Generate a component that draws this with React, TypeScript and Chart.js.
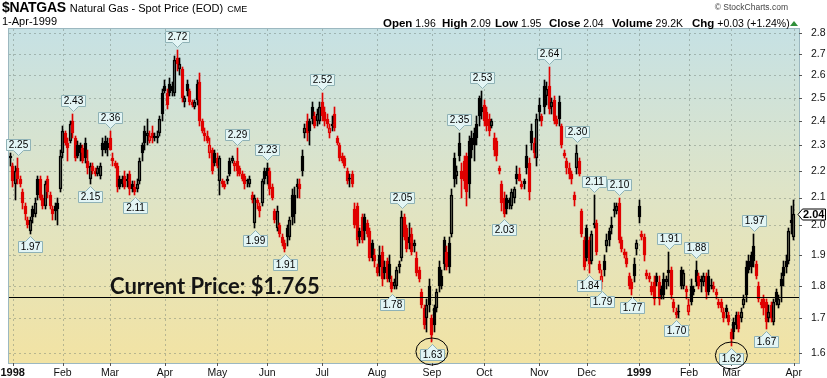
import React, { useEffect, useRef } from "react";
import { Chart, registerables } from "chart.js";

Chart.register(...registerables);

type Row = [number, number, number, number]; // open, high, low, close

// ---- daily OHLC ----
const dec97: Row[] = [[2.25, 2.27, 2.22, 2.26]];
const jan98: Row[] = [
  [2.22, 2.23, 2.14, 2.16], [2.15, 2.22, 2.09, 2.2], [2.21, 2.25, 2.15, 2.17], [2.17, 2.18, 2.14, 2.15],
  [2.12, 2.13, 2.06, 2.08], [2.07, 2.08, 2.02, 2.04], [2.02, 2.03, 1.99, 2.0], [1.98, 2.03, 1.97, 2.02],
  [2.06, 2.07, 2.01, 2.03], [2.04, 2.1, 2.03, 2.08], [2.17, 2.18, 2.09, 2.11], [2.17, 2.18, 2.09, 2.1],
  [2.1, 2.11, 2.06, 2.07], [2.07, 2.16, 2.06, 2.15], [2.17, 2.18, 2.1, 2.12], [2.11, 2.12, 2.06, 2.07],
  [2.06, 2.07, 2.02, 2.04], [2.07, 2.08, 2.02, 2.05], [2.08, 2.1, 2.0, 2.06], [2.13, 2.28, 2.12, 2.26],
];
const feb98: Row[] = [
  [2.27, 2.38, 2.25, 2.36], [2.35, 2.36, 2.3, 2.31], [2.31, 2.33, 2.24, 2.29], [2.32, 2.4, 2.31, 2.39],
  [2.4, 2.43, 2.33, 2.35], [2.33, 2.34, 2.24, 2.25], [2.3, 2.32, 2.25, 2.26], [2.3, 2.31, 2.24, 2.27],
  [2.29, 2.3, 2.23, 2.24], [2.31, 2.33, 2.23, 2.25], [2.24, 2.28, 2.19, 2.21], [2.17, 2.23, 2.15, 2.22],
  [2.22, 2.23, 2.19, 2.2], [2.2, 2.21, 2.18, 2.19], [2.19, 2.22, 2.18, 2.21], [2.18, 2.23, 2.17, 2.22],
  [2.31, 2.33, 2.26, 2.28], [2.32, 2.34, 2.27, 2.28], [2.31, 2.33, 2.26, 2.29],
];
const mar98: Row[] = [
  [2.33, 2.36, 2.28, 2.28], [2.25, 2.27, 2.22, 2.24], [2.23, 2.24, 2.21, 2.22], [2.22, 2.23, 2.12, 2.14],
  [2.17, 2.18, 2.13, 2.14], [2.17, 2.18, 2.14, 2.15], [2.18, 2.2, 2.13, 2.14], [2.17, 2.19, 2.14, 2.16],
  [2.19, 2.2, 2.11, 2.13], [2.15, 2.16, 2.12, 2.13], [2.14, 2.16, 2.11, 2.12], [2.13, 2.17, 2.12, 2.15],
  [2.16, 2.25, 2.15, 2.24], [2.3, 2.31, 2.24, 2.27], [2.36, 2.38, 2.28, 2.31], [2.34, 2.41, 2.3, 2.35],
  [2.32, 2.36, 2.31, 2.34], [2.35, 2.38, 2.31, 2.33], [2.34, 2.35, 2.32, 2.33], [2.33, 2.36, 2.31, 2.34],
  [2.35, 2.42, 2.34, 2.41], [2.52, 2.54, 2.4, 2.43],
];
const apr98: Row[] = [
  [2.55, 2.58, 2.52, 2.53], [2.52, 2.54, 2.45, 2.47], [2.56, 2.59, 2.51, 2.52], [2.55, 2.57, 2.51, 2.53],
  [2.52, 2.69, 2.51, 2.67], [2.68, 2.72, 2.62, 2.65], [2.63, 2.68, 2.6, 2.65], [2.63, 2.64, 2.48, 2.5],
  [2.48, 2.51, 2.46, 2.5], [2.56, 2.58, 2.51, 2.53], [2.53, 2.54, 2.47, 2.48], [2.48, 2.49, 2.46, 2.47],
  [2.46, 2.49, 2.45, 2.48], [2.56, 2.58, 2.47, 2.49], [2.57, 2.61, 2.38, 2.4], [2.4, 2.41, 2.35, 2.36],
  [2.35, 2.37, 2.32, 2.34], [2.34, 2.36, 2.31, 2.32], [2.27, 2.33, 2.25, 2.3], [2.28, 2.29, 2.19, 2.2],
  [2.27, 2.28, 2.22, 2.23],
];
const may98: Row[] = [
  [2.25, 2.27, 2.21, 2.22], [2.16, 2.26, 2.11, 2.25], [2.16, 2.17, 2.14, 2.15], [2.15, 2.16, 2.13, 2.14],
  [2.17, 2.18, 2.15, 2.16], [2.24, 2.25, 2.18, 2.19], [2.24, 2.26, 2.23, 2.25], [2.22, 2.24, 2.2, 2.23],
  [2.24, 2.29, 2.18, 2.2], [2.21, 2.22, 2.18, 2.19], [2.19, 2.2, 2.16, 2.17], [2.18, 2.19, 2.13, 2.15],
  [2.16, 2.17, 2.14, 2.16], [2.15, 2.18, 2.14, 2.17], [2.11, 2.12, 2.08, 2.09], [2.01, 2.11, 1.99, 2.1],
  [2.09, 2.1, 2.06, 2.08], [2.07, 2.08, 2.03, 2.05], [2.08, 2.17, 2.07, 2.16], [2.2, 2.21, 2.15, 2.17],
];
const jun98: Row[] = [
  [2.21, 2.23, 2.15, 2.18], [2.2, 2.21, 2.11, 2.13], [2.14, 2.15, 2.09, 2.1], [2.05, 2.06, 2.01, 2.02],
  [1.99, 2.07, 1.98, 2.05], [2.0, 2.01, 1.96, 1.97], [1.96, 1.97, 1.93, 1.94], [1.94, 1.95, 1.91, 1.92],
  [1.99, 2.0, 1.93, 1.96], [1.96, 2.03, 1.95, 2.02], [2.11, 2.13, 2.0, 2.03], [2.11, 2.14, 2.01, 2.04],
  [2.15, 2.17, 2.1, 2.14], [2.15, 2.17, 2.1, 2.13], [2.26, 2.28, 2.18, 2.2], [2.35, 2.39, 2.33, 2.37],
  [2.4, 2.43, 2.32, 2.35], [2.4, 2.41, 2.3, 2.36], [2.46, 2.48, 2.39, 2.41], [2.42, 2.44, 2.37, 2.38],
  [2.4, 2.45, 2.38, 2.43], [2.4, 2.48, 2.39, 2.46],
];
const jul98: Row[] = [
  [2.48, 2.52, 2.4, 2.42], [2.44, 2.46, 2.38, 2.4], [2.41, 2.43, 2.37, 2.39], [2.35, 2.39, 2.33, 2.37],
  [2.39, 2.42, 2.36, 2.38], [2.43, 2.46, 2.36, 2.37], [2.33, 2.34, 2.3, 2.31], [2.3, 2.31, 2.24, 2.25],
  [2.26, 2.27, 2.23, 2.24], [2.25, 2.26, 2.21, 2.22], [2.2, 2.21, 2.15, 2.16], [2.17, 2.19, 2.14, 2.17],
  [2.19, 2.2, 2.14, 2.15], [2.06, 2.08, 1.99, 2.0], [2.07, 2.08, 1.93, 1.95], [1.98, 1.99, 1.94, 1.96],
  [2.03, 2.04, 1.94, 1.95], [2.03, 2.04, 1.95, 1.98], [2.01, 2.02, 1.96, 1.97], [1.98, 1.99, 1.88, 1.89],
  [1.94, 1.95, 1.88, 1.89], [1.9, 1.92, 1.86, 1.88],
];
const aug98: Row[] = [
  [1.86, 1.87, 1.83, 1.84], [1.9, 1.93, 1.83, 1.86], [1.91, 1.93, 1.8, 1.82], [1.86, 1.88, 1.82, 1.84],
  [1.88, 1.89, 1.81, 1.82], [1.87, 1.9, 1.81, 1.82], [1.81, 1.83, 1.78, 1.79], [1.8, 1.82, 1.79, 1.81],
  [1.8, 1.86, 1.79, 1.85], [1.86, 1.88, 1.84, 1.87], [1.89, 2.05, 1.88, 2.03], [2.03, 2.04, 1.95, 1.96],
  [1.99, 2.0, 1.91, 1.92], [1.96, 2.01, 1.92, 1.94], [1.97, 1.99, 1.9, 1.91], [1.93, 1.95, 1.91, 1.94],
  [1.89, 1.91, 1.83, 1.84], [1.85, 1.86, 1.81, 1.82], [1.78, 1.79, 1.73, 1.74], [1.73, 1.74, 1.67, 1.68],
  [1.7, 1.76, 1.66, 1.74],
];
const sep98: Row[] = [
  [1.8, 1.82, 1.72, 1.74], [1.7, 1.71, 1.63, 1.65], [1.73, 1.74, 1.66, 1.68], [1.73, 1.79, 1.72, 1.78],
  [1.86, 1.88, 1.78, 1.8], [1.83, 1.85, 1.79, 1.8], [1.95, 1.96, 1.85, 1.87], [1.91, 1.93, 1.85, 1.86],
  [1.94, 1.96, 1.84, 1.86], [1.97, 2.13, 1.96, 2.11], [2.25, 2.27, 2.14, 2.17], [2.18, 2.22, 2.15, 2.2],
  [2.31, 2.35, 2.24, 2.26], [2.2, 2.23, 2.1, 2.17], [2.24, 2.26, 2.13, 2.16], [2.26, 2.27, 2.07, 2.12],
  [2.32, 2.34, 2.1, 2.15], [2.33, 2.36, 2.25, 2.28], [2.35, 2.37, 2.24, 2.3], [2.39, 2.42, 2.3, 2.33],
  [2.5, 2.51, 2.38, 2.42],
];
const oct98: Row[] = [
  [2.46, 2.53, 2.41, 2.44], [2.47, 2.49, 2.38, 2.4], [2.44, 2.46, 2.36, 2.38], [2.41, 2.43, 2.34, 2.36],
  [2.38, 2.41, 2.37, 2.4], [2.33, 2.35, 2.26, 2.28], [2.32, 2.33, 2.24, 2.26], [2.21, 2.22, 2.19, 2.2],
  [2.15, 2.16, 2.05, 2.08], [2.1, 2.12, 2.03, 2.04], [2.1, 2.11, 2.04, 2.06], [2.09, 2.1, 2.06, 2.08],
  [2.07, 2.13, 2.06, 2.12], [2.1, 2.14, 2.08, 2.13], [2.19, 2.22, 2.15, 2.17], [2.19, 2.21, 2.16, 2.16],
  [2.15, 2.16, 2.13, 2.14], [2.16, 2.17, 2.13, 2.15], [2.26, 2.3, 2.19, 2.21], [2.23, 2.25, 2.09, 2.12],
  [2.36, 2.39, 2.28, 2.31], [2.31, 2.33, 2.25, 2.27],
];
const nov98: Row[] = [
  [2.25, 2.43, 2.22, 2.41], [2.47, 2.5, 2.4, 2.44], [2.42, 2.43, 2.38, 2.4], [2.55, 2.58, 2.43, 2.46],
  [2.51, 2.57, 2.47, 2.54], [2.55, 2.64, 2.43, 2.45], [2.46, 2.5, 2.43, 2.48], [2.49, 2.51, 2.39, 2.4],
  [2.41, 2.42, 2.38, 2.39], [2.48, 2.51, 2.38, 2.41], [2.38, 2.39, 2.29, 2.3], [2.27, 2.28, 2.25, 2.26],
  [2.24, 2.25, 2.19, 2.21], [2.21, 2.23, 2.17, 2.19], [2.19, 2.2, 2.15, 2.17], [2.11, 2.12, 2.07, 2.09],
  [2.21, 2.3, 2.19, 2.27], [2.24, 2.25, 2.18, 2.19], [2.05, 2.06, 1.96, 1.97], [1.95, 1.96, 1.85, 1.86],
];
const dec98: Row[] = [
  [1.99, 2.0, 1.88, 1.89], [1.95, 1.96, 1.84, 1.87], [1.88, 1.98, 1.87, 1.97], [2.01, 2.11, 1.99, 2.0],
  [2.01, 2.02, 1.9, 1.91], [1.87, 1.88, 1.84, 1.85], [1.81, 1.85, 1.79, 1.83], [1.88, 1.9, 1.83, 1.85],
  [1.93, 1.97, 1.91, 1.95], [1.98, 1.99, 1.93, 1.95], [2.0, 2.03, 1.97, 1.99], [2.06, 2.08, 2.03, 2.05],
  [2.05, 2.08, 2.04, 2.07], [2.08, 2.1, 1.94, 1.95], [1.95, 1.96, 1.91, 1.92], [1.91, 1.92, 1.89, 1.9],
  [1.89, 1.91, 1.86, 1.87], [1.83, 1.84, 1.79, 1.8], [1.81, 1.82, 1.77, 1.79], [1.87, 1.89, 1.81, 1.83],
  [1.92, 1.95, 1.9, 1.94], [2.07, 2.09, 2.01, 2.03],
];
const jan99: Row[] = [
  [1.97, 1.98, 1.95, 1.96], [1.96, 1.97, 1.88, 1.9], [1.84, 1.85, 1.82, 1.83], [1.83, 1.84, 1.81, 1.82],
  [1.8, 1.81, 1.77, 1.78], [1.81, 1.83, 1.74, 1.76], [1.83, 1.84, 1.8, 1.81], [1.81, 1.83, 1.74, 1.76],
  [1.79, 1.8, 1.76, 1.77], [1.82, 1.84, 1.76, 1.77], [1.81, 1.83, 1.79, 1.82], [1.85, 1.91, 1.8, 1.84],
  [1.85, 1.86, 1.76, 1.77], [1.75, 1.76, 1.72, 1.73], [1.72, 1.73, 1.7, 1.71], [1.72, 1.74, 1.7, 1.72],
  [1.85, 1.86, 1.79, 1.8], [1.8, 1.85, 1.79, 1.84], [1.79, 1.8, 1.76, 1.78],
];
const feb99: Row[] = [
  [1.72, 1.76, 1.71, 1.74], [1.8, 1.82, 1.74, 1.75], [1.79, 1.8, 1.77, 1.78], [1.85, 1.88, 1.8, 1.81],
  [1.83, 1.84, 1.79, 1.8], [1.82, 1.83, 1.78, 1.81], [1.81, 1.84, 1.8, 1.83], [1.83, 1.84, 1.76, 1.78],
  [1.83, 1.85, 1.77, 1.78], [1.8, 1.82, 1.79, 1.8], [1.8, 1.81, 1.78, 1.79], [1.78, 1.79, 1.76, 1.77],
  [1.75, 1.76, 1.73, 1.74], [1.75, 1.76, 1.72, 1.73], [1.72, 1.73, 1.69, 1.7], [1.73, 1.74, 1.7, 1.72],
  [1.71, 1.72, 1.68, 1.69], [1.66, 1.67, 1.62, 1.64], [1.69, 1.7, 1.64, 1.66],
];
const mar99: Row[] = [
  [1.71, 1.72, 1.67, 1.68], [1.71, 1.72, 1.66, 1.67], [1.7, 1.73, 1.69, 1.72], [1.74, 1.77, 1.73, 1.76],
  [1.86, 1.88, 1.75, 1.77], [1.88, 1.9, 1.84, 1.85], [1.9, 1.91, 1.84, 1.86], [1.93, 1.97, 1.86, 1.88],
  [1.87, 1.88, 1.82, 1.83], [1.8, 1.81, 1.75, 1.76], [1.75, 1.76, 1.73, 1.74], [1.76, 1.77, 1.71, 1.73],
  [1.75, 1.76, 1.67, 1.69], [1.7, 1.74, 1.69, 1.72], [1.74, 1.75, 1.69, 1.7], [1.69, 1.76, 1.68, 1.75],
  [1.78, 1.79, 1.74, 1.75], [1.74, 1.77, 1.73, 1.76], [1.82, 1.84, 1.75, 1.8], [1.86, 1.88, 1.8, 1.83],
  [1.88, 1.9, 1.84, 1.86], [1.88, 1.99, 1.87, 1.98], [2.02, 2.07, 1.97, 2.01],
];
const apr99: Row[] = [[1.96, 2.09, 1.95, 2.04]];

// ---- axes ----
const monthSlots = [0, 20, 39, 61, 82, 102, 124, 146, 168, 189, 211, 230, 251, 271, 288, 313];
const monthLabels = ["1998", "Feb", "Mar", "Apr", "May", "Jun", "Jul", "Aug", "Sep", "Oct", "Nov", "Dec", "1999", "Feb", "Mar", "Apr"];
const yTickValues = [1.6, 1.7, 1.8, 1.9, 2.0, 2.1, 2.2, 2.3, 2.4, 2.5, 2.6, 2.7, 2.8];

// ---- annotations (slot indices of labelled highs / lows) ----
const highMarks = [2, 24, 39, 66, 90, 102, 124, 156, 179, 188, 215, 226, 233, 243, 263, 274, 297];
const lowMarks = [7, 31, 49, 97, 109, 152, 168, 197, 231, 236, 248, 266, 288, 302];
const circledLows = [168, 288];
const currentPrice = 1.765;

// ---- header ----
const symbol = "$NATGAS";
const seriesName = "Natural Gas - Spot Price (EOD)";
const exchange = "CME";
const quoteDate = "1-Apr-1999";
const statLabels = ["Open", "High", "Low", "Close", "Volume", "Chg"];
const statValues = ["1.96", "2.09", "1.95", "2.04", "29.2K", "+0.03 (+1.24%)"];
const statX = [383, 442, 495, 549, 612, 692];

const candles: Row[] = [dec97, jan98, feb98, mar98, apr98, may98, jun98, jul98, aug98, sep98, oct98, nov98, dec98, jan99, feb99, mar99, apr99].flat();
const FIRST_SLOT = -1;

const RED = "#e00000";
const BLACK = "#000000";
const FONT = '"Liberation Sans", Arial, Helvetica, sans-serif';

const crisp = (v: number) => Math.round(v) + 0.5;

function drawCallout(ctx: any, cx: number, tipY: number, text: string, down: boolean) {
  ctx.font = `10px ${FONT}`;
  const w = Math.round(ctx.measureText(text).width) + 5;
  const h = 11;
  const ph = 5;
  const pw = 5;
  const l = Math.round(cx - w / 2) + 0.5;
  const r = l + w;
  const c = Math.round(cx) + 0.5;
  ctx.beginPath();
  let top: number;
  if (down) {
    const bottom = Math.round(tipY - ph) + 0.5;
    top = bottom - h;
    ctx.moveTo(l, top);
    ctx.lineTo(r, top);
    ctx.lineTo(r, bottom);
    ctx.lineTo(c + pw, bottom);
    ctx.lineTo(c, bottom + ph);
    ctx.lineTo(c - pw, bottom);
    ctx.lineTo(l, bottom);
  } else {
    top = Math.round(tipY + ph) + 0.5;
    const bottom = top + h;
    ctx.moveTo(l, top);
    ctx.lineTo(c - pw, top);
    ctx.lineTo(c, top - ph);
    ctx.lineTo(c + pw, top);
    ctx.lineTo(r, top);
    ctx.lineTo(r, bottom);
    ctx.lineTo(l, bottom);
  }
  ctx.closePath();
  ctx.fillStyle = "#e3f5f5";
  ctx.fill();
  ctx.strokeStyle = "#8fb2b6";
  ctx.lineWidth = 1;
  ctx.stroke();
  ctx.fillStyle = "#000";
  ctx.textAlign = "center";
  ctx.textBaseline = "middle";
  ctx.fillText(text, c, top + h / 2 + 0.5);
  return top + h / 2;
}

const decor = {
  id: "decor",
  afterDatasetsUpdate(chart: any) {
    // snap bars to whole pixels so the candles stay crisp
    chart.data.datasets.forEach((_d: any, i: number) => {
      chart.getDatasetMeta(i).data.forEach((el: any) => {
        el.x = Math.floor(el.x) + 0.5;
        el.y = Math.round(el.y);
        el.base = Math.round(el.base);
        if (Math.abs(el.base - el.y) < 1) el.y = el.base - 1;
      });
    });
  },
  beforeDatasetsDraw(chart: any) {
    const { ctx, chartArea: a } = chart;
    const xs = chart.scales.x;
    const ys = chart.scales.y;
    ctx.save();
    const g = ctx.createLinearGradient(0, a.top, 0, a.bottom);
    g.addColorStop(0, "#c6e1e4");
    g.addColorStop(0.5, "#dfe4c6");
    g.addColorStop(1, "#f2e3a3");
    ctx.fillStyle = g;
    ctx.fillRect(a.left, a.top, a.right - a.left, a.bottom - a.top);
    ctx.lineWidth = 1;
    ctx.strokeStyle = "rgba(105,120,110,0.42)";
    ctx.setLineDash([2, 3]);
    ctx.beginPath();
    ys.ticks.forEach((t: any) => {
      const p = crisp(ys.getPixelForValue(t.value));
      ctx.moveTo(a.left, p);
      ctx.lineTo(a.right, p);
    });
    xs.ticks.forEach((t: any) => {
      const p = crisp(xs.getPixelForValue(t.value));
      ctx.moveTo(p, a.top);
      ctx.lineTo(p, a.bottom);
    });
    ctx.stroke();
    ctx.restore();
  },
  afterDatasetsDraw(chart: any) {
    const { ctx, chartArea: a } = chart;
    const xs = chart.scales.x;
    const ys = chart.scales.y;
    ctx.save();
    ctx.setLineDash([]);
    // plot frame
    ctx.strokeStyle = "#9cb8c0";
    ctx.lineWidth = 1;
    ctx.strokeRect(a.left - 0.5, a.top - 0.5, a.right - a.left + 1, a.bottom - a.top + 1);
    // tick marks
    ctx.strokeStyle = "#555";
    ctx.beginPath();
    ys.ticks.forEach((t: any) => {
      const p = crisp(ys.getPixelForValue(t.value));
      ctx.moveTo(a.right, p);
      ctx.lineTo(a.right + 3, p);
    });
    xs.ticks.forEach((t: any) => {
      const p = crisp(xs.getPixelForValue(t.value));
      ctx.moveTo(p, a.bottom);
      ctx.lineTo(p, a.bottom + 3);
    });
    ctx.stroke();
    // month labels
    ctx.fillStyle = "#111";
    ctx.textAlign = "center";
    ctx.textBaseline = "alphabetic";
    xs.ticks.forEach((t: any, i: number) => {
      const year = /^\d{4}$/.test(monthLabels[i]);
      ctx.font = `${year ? "bold 11px" : "10.5px"} ${FONT}`;
      const p = xs.getPixelForValue(t.value);
      const w = ctx.measureText(monthLabels[i]).width;
      const cx = Math.max(p, w / 2);
      ctx.fillText(monthLabels[i], cx, a.bottom + 13);
    });
    // current price line + caption
    const ly = crisp(ys.getPixelForValue(currentPrice));
    ctx.strokeStyle = "#000";
    ctx.beginPath();
    ctx.moveTo(a.left, ly);
    ctx.lineTo(a.right, ly);
    ctx.stroke();
    ctx.fillStyle = "#141414";
    ctx.font = `bold 22px Lato, "Open Sans", sans-serif`;
    ctx.textAlign = "left";
    ctx.textBaseline = "alphabetic";
    ctx.fillText(`Current Price: $${currentPrice}`, 110, ly - 3.5, 210);
    // callouts
    highMarks.forEach((s) => {
      const c = candles[s - FIRST_SLOT];
      drawCallout(ctx, xs.getPixelForValue(s), ys.getPixelForValue(c[1]) - 3, c[1].toFixed(2), true);
    });
    lowMarks.forEach((s) => {
      const c = candles[s - FIRST_SLOT];
      const mid = drawCallout(ctx, xs.getPixelForValue(s), ys.getPixelForValue(c[2]) + 2, c[2].toFixed(2), false);
      if (circledLows.includes(s)) {
        ctx.beginPath();
        ctx.strokeStyle = "#000";
        ctx.lineWidth = 1;
        ctx.ellipse(xs.getPixelForValue(s), mid - 3.5, 16, 13.5, 0, 0, Math.PI * 2);
        ctx.stroke();
      }
    });
    // last price flag on the axis
    const last = candles[candles.length - 1][3];
    const py = Math.round(ys.getPixelForValue(last)) + 0.5;
    const x0 = a.right - 1;
    ctx.beginPath();
    ctx.moveTo(x0, py);
    ctx.lineTo(x0 + 4.5, py - 5.5);
    ctx.lineTo(825.5, py - 5.5);
    ctx.lineTo(825.5, py + 5.5);
    ctx.lineTo(x0 + 4.5, py + 5.5);
    ctx.closePath();
    ctx.fillStyle = "#fff";
    ctx.fill();
    ctx.strokeStyle = "#000";
    ctx.stroke();
    ctx.fillStyle = "#000";
    ctx.font = `bold 11px ${FONT}`;
    ctx.textAlign = "left";
    ctx.textBaseline = "middle";
    ctx.fillText(last.toFixed(2), x0 + 5, py + 0.5);
    ctx.restore();
  },
};

export default function App() {
  const ref = useRef<HTMLCanvasElement>(null);

  useEffect(() => {
    const colorOf = (k: number) => (k > 0 && candles[k][3] < candles[k - 1][3] ? RED : BLACK);
    const colors = candles.map((_, k) => colorOf(k));
    const bodyFill = candles.map((c, k) => (c[3] > c[0] ? "rgba(0,0,0,0)" : colors[k]));
    const slot = (k: number) => k + FIRST_SLOT;

    const upper = candles.map((c, k) => ({ x: slot(k), y: [Math.max(c[0], c[3]), c[1]] }));
    const lower = candles.map((c, k) => ({ x: slot(k), y: [c[2], Math.min(c[0], c[3])] }));
    const bodies = candles.map((c, k) => ({ x: slot(k), y: [Math.min(c[0], c[3]), Math.max(c[0], c[3])] }));

    const chart = new Chart(ref.current as HTMLCanvasElement, {
      type: "bar",
      data: {
        datasets: [
          { data: upper as any, backgroundColor: colors, borderWidth: 0, barThickness: 1, grouped: false } as any,
          { data: lower as any, backgroundColor: colors, borderWidth: 0, barThickness: 1, grouped: false } as any,
          {
            data: bodies as any,
            backgroundColor: bodyFill,
            borderColor: colors,
            borderWidth: 1,
            borderSkipped: false,
            barThickness: 3,
            minBarLength: 1,
            grouped: false,
          } as any,
        ],
      },
      options: {
        responsive: false,
        animation: false,
        devicePixelRatio: 1,
        layout: { padding: { left: 9, top: 29, right: 0, bottom: 0 } },
        plugins: { legend: { display: false }, tooltip: { enabled: false } },
        scales: {
          x: {
            type: "linear",
            min: -1.48,
            max: 315.1,
            offset: false,
            afterBuildTicks: (s: any) => {
              s.ticks = monthSlots.map((v) => ({ value: v }));
            },
            afterFit: (s: any) => {
              s.height = 15;
            },
            grid: { display: false },
            border: { display: false },
            ticks: { display: false },
          },
          y: {
            type: "logarithmic",
            position: "right",
            min: 1.5723,
            max: 2.8197,
            afterBuildTicks: (s: any) => {
              s.ticks = yTickValues.map((v) => ({ value: v }));
            },
            afterFit: (s: any) => {
              s.width = 28;
            },
            grid: { display: false },
            border: { display: false },
            ticks: {
              autoSkip: false,
              padding: 4,
              color: "#111",
              font: { family: FONT, size: 10.5 },
              callback: (v: any) => Number(v).toFixed(1),
            },
          },
        },
      } as any,
      plugins: [decor],
    });
    return () => chart.destroy();
  }, []);

  return (
    <div
      style={{
        position: "absolute",
        left: 0,
        top: 0,
        width: 827,
        height: 378,
        background: "#fff",
        fontFamily: FONT,
        color: "#000",
        overflow: "hidden",
      }}
    >
      <canvas ref={ref} width={827} height={378} style={{ display: "block", position: "absolute", left: 0, top: 0 }} />
      <div style={{ position: "absolute", left: 2, top: -2, whiteSpace: "nowrap", lineHeight: "17px" }}>
        <span style={{ fontSize: 14, fontWeight: "bold", letterSpacing: -0.3 }}>{symbol}</span>
        <span style={{ fontSize: 11, marginLeft: 4 }}>{seriesName}</span>
        <span style={{ fontSize: 9, marginLeft: 4 }}>{exchange}</span>
      </div>
      <div style={{ position: "absolute", left: 2, top: 15, fontSize: 11, lineHeight: "13px" }}>{quoteDate}</div>
      {statLabels.map((l, i) => (
        <div key={l} style={{ position: "absolute", left: statX[i], top: 15, whiteSpace: "nowrap", lineHeight: "13px" }}>
          <span style={{ fontSize: 11.5, fontWeight: "bold" }}>{l}</span>
          <span style={{ fontSize: 10.5 }}> {statValues[i]}</span>
        </div>
      ))}
      <div
        style={{
          position: "absolute",
          left: 790,
          top: 21,
          width: 0,
          height: 0,
          borderLeft: "4px solid transparent",
          borderRight: "4px solid transparent",
          borderBottom: "5px solid #2f8f3a",
        }}
      />
      <div style={{ position: "absolute", right: 39, top: 2, fontSize: 8.5, color: "#444", lineHeight: "10px" }}>
        © StockCharts.com
      </div>
    </div>
  );
}
